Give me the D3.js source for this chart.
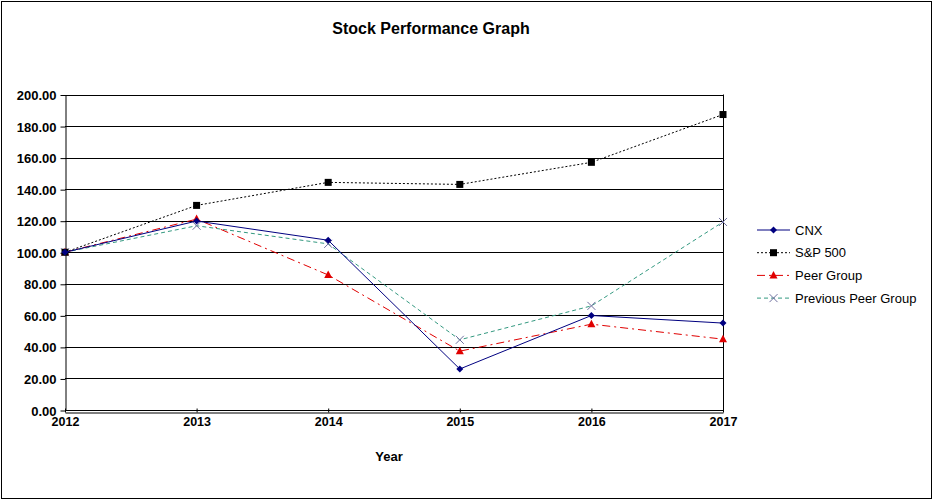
<!DOCTYPE html>
<html>
<head>
<meta charset="utf-8">
<script src="https://cdn.jsdelivr.net/npm/d3@7"></script>
<style>
  body { margin: 0; background: #fff; }
  svg { font-family: Arial, "Liberation Sans", sans-serif; }
</style>
</head>
<body>
<svg id="chart" width="933" height="500"></svg>
<script>
const years = [2012, 2013, 2014, 2015, 2016, 2017];
const cnx = [100, 119.8, 107.6, 26.0, 59.9, 55.1];
const sp500 = [100, 129.7, 144.3, 143.0, 157.0, 187.3];
const peer = [100, 121.0, 85.6, 37.3, 54.4, 44.9];
const prevPeer = [100, 116.8, 105.3, 44.5, 66.0, 119.2];
const yTicks = [0, 20, 40, 60, 80, 100, 120, 140, 160, 180, 200];

const series = [
  {name: "CNX", values: cnx, color: "#000080", dash: null, marker: "diamond", mcolor: "#000080"},
  {name: "S&P 500", values: sp500, color: "#000000", dash: "2,2", marker: "square", mcolor: "#000000"},
  {name: "Peer Group", values: peer, color: "#e00000", dash: "8,4,2,4", marker: "triangle", mcolor: "#e00000"},
  {name: "Previous Peer Group", values: prevPeer, color: "#339980", dash: "4,3", marker: "cross", mcolor: "#7070a0"}
];

const svg = d3.select("#chart");
const x = d3.scaleLinear().domain([2012, 2017]).range([65, 723]);
const y = d3.scaleLinear().domain([0, 200]).range([410, 94.5]);

// outer border
svg.append("rect").attr("x", 1.5).attr("y", 1.5).attr("width", 930).attr("height", 497)
  .attr("fill", "#fff").attr("stroke", "#000").attr("stroke-width", 1);

// title
svg.append("text").attr("x", 431).attr("y", 34).attr("text-anchor", "middle")
  .attr("font-size", "16px").attr("font-weight", "bold").text("Stock Performance Graph");

// gridlines
svg.append("g").selectAll("line").data(yTicks).join("line")
  .attr("x1", x(2012)).attr("x2", x(2017))
  .attr("y1", d => Math.round(y(d)) + 0.5).attr("y2", d => Math.round(y(d)) + 0.5)
  .attr("stroke", "#000").attr("stroke-width", 1);

// right border of plot
svg.append("line").attr("x1", x(2017) + 0.5).attr("x2", x(2017) + 0.5)
  .attr("y1", y(200)).attr("y2", y(0)).attr("stroke", "#000");

// y axis
const yAxis = d3.axisLeft(y).tickValues(yTicks).tickFormat(d3.format(".2f")).tickSize(5).tickSizeOuter(0);
const gy = svg.append("g").attr("transform", `translate(${x(2012) + 0.5},0.5)`).call(yAxis);
gy.selectAll("text").attr("font-size", "13px").attr("font-weight", "bold").attr("fill", "#000")
  .attr("font-family", "Arial, 'Liberation Sans', sans-serif").attr("x", -9).attr("dy", "0.35em");
gy.selectAll("line, path").attr("stroke", "#000");

// x axis (double line below the 0 gridline)
const xAxis = d3.axisBottom(x).tickValues(years).tickFormat(d3.format("d")).tickSize(-4).tickSizeOuter(0);
const gx = svg.append("g").attr("transform", `translate(0,${Math.round(y(0)) + 2.5})`).call(xAxis);
gx.selectAll("text").attr("font-size", "12.5px").attr("font-weight", "bold").attr("fill", "#000")
  .attr("font-family", "Arial, 'Liberation Sans', sans-serif").attr("y", 13).attr("dy", "0");
gx.selectAll("line, path").attr("stroke", "#000");

svg.append("text").attr("x", 389).attr("y", 461).attr("text-anchor", "middle")
  .attr("font-size", "13px").attr("font-weight", "bold").text("Year");

function drawMarker(g, type, cx, cy, color) {
  if (type === "diamond") {
    g.append("path").attr("d", `M${cx},${cy - 3.5}L${cx + 3.5},${cy}L${cx},${cy + 3.5}L${cx - 3.5},${cy}Z`).attr("fill", color);
  } else if (type === "square") {
    g.append("rect").attr("x", cx - 3.5).attr("y", cy - 3.5).attr("width", 7).attr("height", 7).attr("fill", color);
  } else if (type === "triangle") {
    g.append("path").attr("d", `M${cx},${cy - 4.5}L${cx + 4},${cy + 3}L${cx - 4},${cy + 3}Z`).attr("fill", color);
  } else {
    g.append("path").attr("d", `M${cx - 4},${cy - 4}L${cx + 4},${cy + 4}M${cx + 4},${cy - 4}L${cx - 4},${cy + 4}`)
      .attr("stroke", color).attr("stroke-width", 1).attr("fill", "none");
  }
}

const line = d3.line().x((d, i) => x(years[i])).y(d => y(d));
const drawOrder = [3, 2, 1, 0];
drawOrder.forEach(k => {
  const s = series[k];
  const g = svg.append("g");
  g.append("path").datum(s.values).attr("d", line).attr("fill", "none")
    .attr("stroke", s.color).attr("stroke-width", 1).attr("stroke-dasharray", s.dash);
  s.values.forEach((v, i) => drawMarker(g, s.marker, x(years[i]), y(v), s.mcolor));
});

// legend
const legend = svg.append("g");
series.forEach((s, i) => {
  const ly = 230 + i * 22.7;
  legend.append("line").attr("x1", 757).attr("x2", 790).attr("y1", ly).attr("y2", ly)
    .attr("stroke", s.color).attr("stroke-dasharray", s.dash);
  drawMarker(legend, s.marker, 773.5, ly, s.mcolor);
  legend.append("text").attr("x", 795).attr("y", ly).attr("dy", "0.35em")
    .attr("font-size", "13px").text(s.name);
});
</script>
</body>
</html>
